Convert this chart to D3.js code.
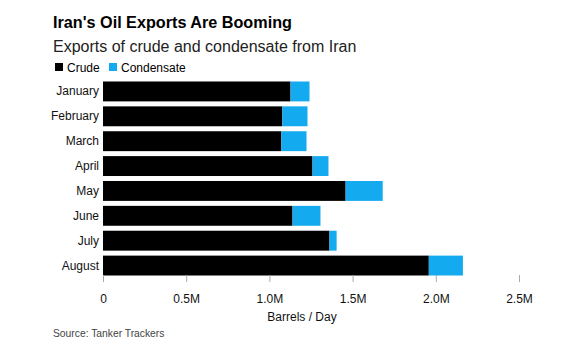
<!DOCTYPE html>
<html lang="en">
  <head>
    <meta charset="UTF-8" />
    <title>Iran's Oil Exports</title>
    <script src="https://d3js.org/d3.v7.min.js"></script>
    <style>
      body {
        margin: 0;
        background: #fff;
      }
      svg text {
        font-family: "Liberation Sans", Arial, sans-serif;
      }
    </style>
  </head>
  <body>
    <svg width="566" height="342"></svg>

    <script>
      var months = ["January", "February", "March", "April", "May", "June", "July", "August"];
      // barrels per day
      var crude = [1127000, 1078000, 1072000, 1259000, 1458000, 1139000, 1361000, 1958000];
      var condensate = [114000, 151000, 151000, 96000, 223000, 168000, 43000, 205000];
      var xTicks = [0, 500000, 1000000, 1500000, 2000000, 2500000];
      var xTickLabels = ["0", "0.5M", "1.0M", "1.5M", "2.0M", "2.5M"];
      var seriesNames = ["Crude", "Condensate"];
      var colors = ["#000000", "#14aaf0"];

      var svg = d3.select("svg");

      var rows = months.map(function (m, i) {
        return { month: m, Crude: crude[i], Condensate: condensate[i] };
      });
      var stacked = d3.stack().keys(seriesNames)(rows);

      var x = d3.scaleLinear().domain([0, 2500000]).range([103, 519]);
      var y = d3.scaleBand().domain(months).range([79, 278]).paddingInner(0.2).paddingOuter(0.1);

      // title block
      svg.append("text")
        .attr("x", 53).attr("y", 28)
        .style("font-size", "16.2px").style("font-weight", "bold")
        .text("Iran's Oil Exports Are Booming");
      svg.append("text")
        .attr("x", 53).attr("y", 52)
        .style("font-size", "16px").attr("fill", "#222")
        .text("Exports of crude and condensate from Iran");

      var legend = svg.append("g").attr("transform", "translate(55,63)");
      var lg = legend.selectAll("g").data(seriesNames).enter().append("g")
        .attr("transform", function (d, i) { return "translate(" + (i * 54) + ",0)"; });
      lg.append("rect").attr("width", 8).attr("height", 8)
        .attr("fill", function (d, i) { return colors[i]; });
      lg.append("text").attr("x", 12).attr("y", 8.5)
        .style("font-size", "12px").text(function (d) { return d; });

      // bars
      svg.append("g").selectAll("g").data(stacked).enter().append("g")
        .attr("fill", function (d, i) { return colors[i]; })
        .selectAll("rect").data(function (d) { return d; }).enter().append("rect")
        .attr("x", function (d) { return x(d[0]); })
        .attr("width", function (d) { return x(d[1]) - x(d[0]); })
        .attr("y", function (d) { return y(d.data.month); })
        .attr("height", y.bandwidth());

      // month labels
      svg.append("g").selectAll("text").data(months).enter().append("text")
        .attr("x", 99)
        .attr("y", function (d) { return y(d) + y.bandwidth() / 2 + 4; })
        .attr("text-anchor", "end")
        .style("font-size", "12px").attr("fill", "#111")
        .text(function (d) { return d; });

      // x axis
      var xAxis = svg.append("g")
        .attr("transform", "translate(0,275)")
        .call(d3.axisBottom(x).tickValues(xTicks).tickSize(7).tickPadding(12)
          .tickFormat(function (d, i) { return xTickLabels[i]; }));
      xAxis.select(".domain").remove();
      xAxis.selectAll("line").attr("stroke", "#aaa");
      xAxis.selectAll("text")
        .style("font-family", "'Liberation Sans', Arial, sans-serif")
        .style("font-size", "12px").attr("fill", "#111");

      svg.append("text")
        .attr("x", 302).attr("y", 321)
        .attr("text-anchor", "middle")
        .style("font-size", "12px").attr("fill", "#111")
        .text("Barrels / Day");

      svg.append("text")
        .attr("x", 53).attr("y", 337)
        .style("font-size", "10.3px").attr("fill", "#444")
        .text("Source: Tanker Trackers");
    </script>
  </body>
</html>
